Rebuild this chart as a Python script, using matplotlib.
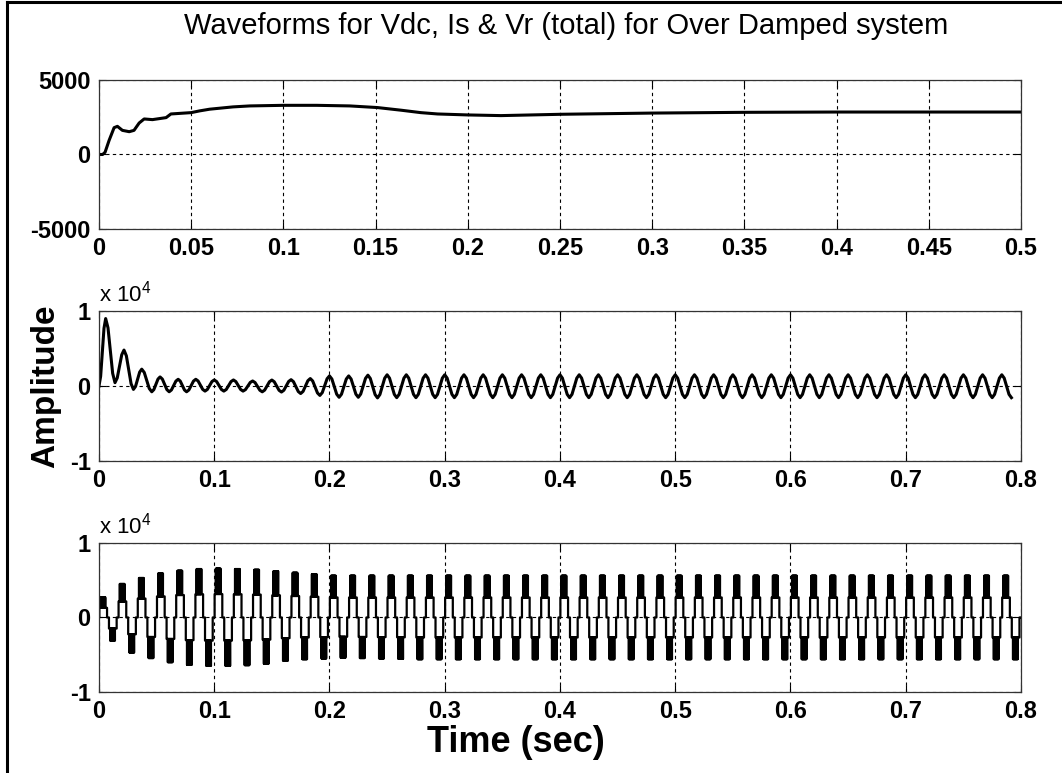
import numpy as np
import matplotlib
matplotlib.use('Agg')
import matplotlib.pyplot as plt
from matplotlib.lines import Line2D

# --- DATA ---
# Vdc breakpoints
VDC_T = [0, 0.002, 0.0033, 0.0055, 0.0082, 0.010, 0.0127, 0.0164, 0.019, 0.0218,
         0.0245, 0.029, 0.0364, 0.039, 0.05, 0.0545, 0.06, 0.0727, 0.0818, 0.1,
         0.118, 0.136, 0.151, 0.164, 0.1745, 0.1836, 0.2, 0.218, 0.251, 0.3,
         0.35, 0.4, 0.45, 0.5]
VDC_V = [0, 0, 150, 950, 1800, 1890, 1620, 1530, 1620, 2115,
         2385, 2340, 2475, 2720, 2810, 2925, 3040, 3195, 3260, 3300,
         3300, 3260, 3150, 2970, 2810, 2720, 2655, 2610, 2700, 2780,
         2830, 2850, 2850, 2850]

# Is: early transient extremes, then 60 Hz cycles (peak at 0.1 + k/60)
IS_EARLY_T = [0, 0.0058, 0.0139, 0.0217, 0.0299, 0.0371, 0.0458, 0.053, 0.0609,
              0.0687, 0.076, 0.084, 0.092]
IS_EARLY_V = [0, 9000, 450, 4800, -450, 2250, -765, 1215, -765, 900, -765, 900, -675]
IS_START = 0.1
IS_PEAKS = [810, 810, 675, 800, 850, 1000, 1350, 1350, 1450, 1500,
            1500, 1500, 1500, 1500, 1500, 1500, 1500, 1500, 1500, 1500,
            1500, 1500, 1500, 1500, 1500, 1500, 1500, 1500, 1500, 1500,
            1500, 1500, 1500, 1500, 1500, 1500, 1500, 1500, 1500, 1500,
            1500, 1500]
IS_TROUGHS = [-675, -675, -770, -800, -1000, -1250, -1500, -1500, -1580, -1550,
              -1550, -1550, -1550, -1550, -1550, -1550, -1550, -1550, -1550, -1550,
              -1550, -1550, -1550, -1550, -1550, -1550, -1550, -1550, -1550, -1550,
              -1550, -1550, -1550, -1550, -1550, -1550, -1550, -1550, -1550, -1550,
              -1550, -1550]
HALF_SHAPE = [0.71, 0.0, -0.71]   # in-between points from peak to trough

# Vr: stepped waveform, one entry per 60 Hz cycle
VR_PEAKS = [2700, 4500, 5300, 5900, 6270, 6500, 6550, 6500, 6400, 6200,
            6000, 5800, 5600, 5600, 5600, 5600, 5600, 5600, 5600, 5600,
            5600, 5600, 5600, 5600, 5600, 5600, 5600, 5600, 5600, 5600,
            5600, 5600, 5600, 5600, 5600, 5600, 5600, 5600, 5600, 5600,
            5600, 5600, 5600, 5600, 5600, 5600, 5600, 5600]
VR_TROUGHS = [-3100, -4700, -5450, -6000, -6350, -6480, -6480, -6400, -6200, -5800,
              -5600, -5500, -5400, -5450, -5500, -5550, -5600, -5600, -5600, -5600,
              -5600, -5600, -5600, -5600, -5600, -5600, -5600, -5600, -5600, -5600,
              -5600, -5600, -5600, -5600, -5600, -5600, -5600, -5600, -5600, -5600,
              -5600, -5600, -5600, -5600, -5600, -5600, -5600, -5600]
STEP_RATIO = 0.48
F0 = 60.0


def build_is():
    T = 1.0 / F0
    ext_t, ext_v = list(IS_EARLY_T), list(IS_EARLY_V)
    for k, (p, q) in enumerate(zip(IS_PEAKS, IS_TROUGHS)):
        ext_t += [IS_START + k * T, IS_START + (k + 0.5) * T]
        ext_v += [p, q]
    out_t, out_v = [ext_t[0]], [ext_v[0]]
    for i in range(len(ext_t) - 1):
        a, b = ext_v[i], ext_v[i + 1]
        mid, half = (a + b) / 2, (a - b) / 2
        for j, s in enumerate(HALF_SHAPE):
            out_t.append(ext_t[i] + (j + 1) / 4 * (ext_t[i + 1] - ext_t[i]))
            out_v.append(mid + half * s)
        out_t.append(ext_t[i + 1])
        out_v.append(b)
    return np.array(out_t), np.array(out_v)


def build_vr():
    T = 1.0 / F0
    ts, vs = [], []
    for k, (p, q) in enumerate(zip(VR_PEAKS, VR_TROUGHS)):
        t0 = k * T
        for sgn, top, off in [(1, p, 0.0), (-1, -q, 0.5)]:
            lvl = sgn * STEP_RATIO * top
            seq = [(off + 0.0, 0), (off + 0.02, 0), (off + 0.02, lvl), (off + 0.08, lvl)]
            ph = off + 0.08
            hi = True
            while ph < off + 0.33:
                seq.append((ph, sgn * top if hi else lvl))
                ph += 0.012
                seq.append((ph, sgn * top if hi else lvl))
                hi = not hi
            seq += [(off + 0.33, lvl), (off + 0.42, lvl), (off + 0.42, 0), (off + 0.5, 0)]
            for ph_, val in seq:
                ts.append(t0 + ph_ * T)
                vs.append(val)
    return np.array(ts), np.array(vs)


plt.rcParams['font.family'] = ['Liberation Sans', 'DejaVu Sans']
plt.rcParams['mathtext.fontset'] = 'custom'
plt.rcParams['mathtext.rm'] = 'Liberation Sans'

fig = plt.figure(figsize=(10.62, 7.73), dpi=100)
fig.patch.set_facecolor('white')

positions = [[0.0932, 0.7038, 0.8682, 0.1927],
             [0.0932, 0.4036, 0.8682, 0.1940],
             [0.0932, 0.1048, 0.8682, 0.1928]]
axes = [fig.add_axes(p) for p in positions]

grid_kw = dict(color='black', linestyle=(0, (3, 3)), linewidth=0.8)

# top: Vdc
ax = axes[0]
ax.plot(VDC_T, VDC_V, color='black', lw=2.2)
ax.set_xlim(0, 0.5)
ax.set_ylim(-5000, 5000)
ax.set_xticks(np.arange(0, 0.501, 0.05))
ax.set_xticklabels(['0', '0.05', '0.1', '0.15', '0.2', '0.25', '0.3', '0.35', '0.4', '0.45', '0.5'])
ax.set_yticks([-5000, 0, 5000])
ax.set_yticklabels(['-5000', '0', '5000'])

fig.text(566 / 1062, 1 - 26 / 773, 'Waveforms for Vdc, Is & Vr (total) for Over Damped system',
         fontsize=21, ha='center', va='center')

# middle: Is
t_is, v_is = build_is()
ax = axes[1]
ax.plot(t_is, v_is, color='black', lw=2.2)
ax.set_ylabel('Amplitude', fontsize=24, fontweight='bold', labelpad=6)

# bottom: Vr
t_vr, v_vr = build_vr()
ax = axes[2]
ax.plot(t_vr, v_vr, color='black', lw=1.6)

for ax in axes[1:]:
    ax.set_xlim(0, 0.8)
    ax.set_ylim(-1e4, 1e4)
    ax.set_xticks(np.arange(0, 0.801, 0.1))
    ax.set_xticklabels(['0', '0.1', '0.2', '0.3', '0.4', '0.5', '0.6', '0.7', '0.8'])
    ax.set_yticks([-1e4, 0, 1e4])
    ax.set_yticklabels(['-1', '0', '1'])
    ax.text(0.0, 1.03, r'x 10$^{\mathregular{4}}$', transform=ax.transAxes,
            fontsize=16, ha='left', va='bottom')

for ax in axes:
    ax.grid(True, **grid_kw)
    ax.tick_params(direction='in', top=True, right=True, length=5, width=0.8,
                   labelsize=17, pad=6)
    for lab in ax.get_xticklabels() + ax.get_yticklabels():
        lab.set_fontweight('bold')
    for s in ax.spines.values():
        s.set_linewidth(0.9)
        s.set_color('#333333')

fig.text(516 / 1062, 1 - 743 / 773, 'Time (sec)', fontsize=26, fontweight='bold',
         ha='center', va='center')

# frame lines on the top and left edge of the figure
fig.add_artist(Line2D([7 / 1062, 7 / 1062], [0, 1 - 2 / 773], transform=fig.transFigure,
                      color='black', lw=2.2))
fig.add_artist(Line2D([7 / 1062, 1], [1 - 2 / 773, 1 - 2 / 773], transform=fig.transFigure,
                      color='black', lw=2.2))

fig.savefig('out.png', dpi=100)
